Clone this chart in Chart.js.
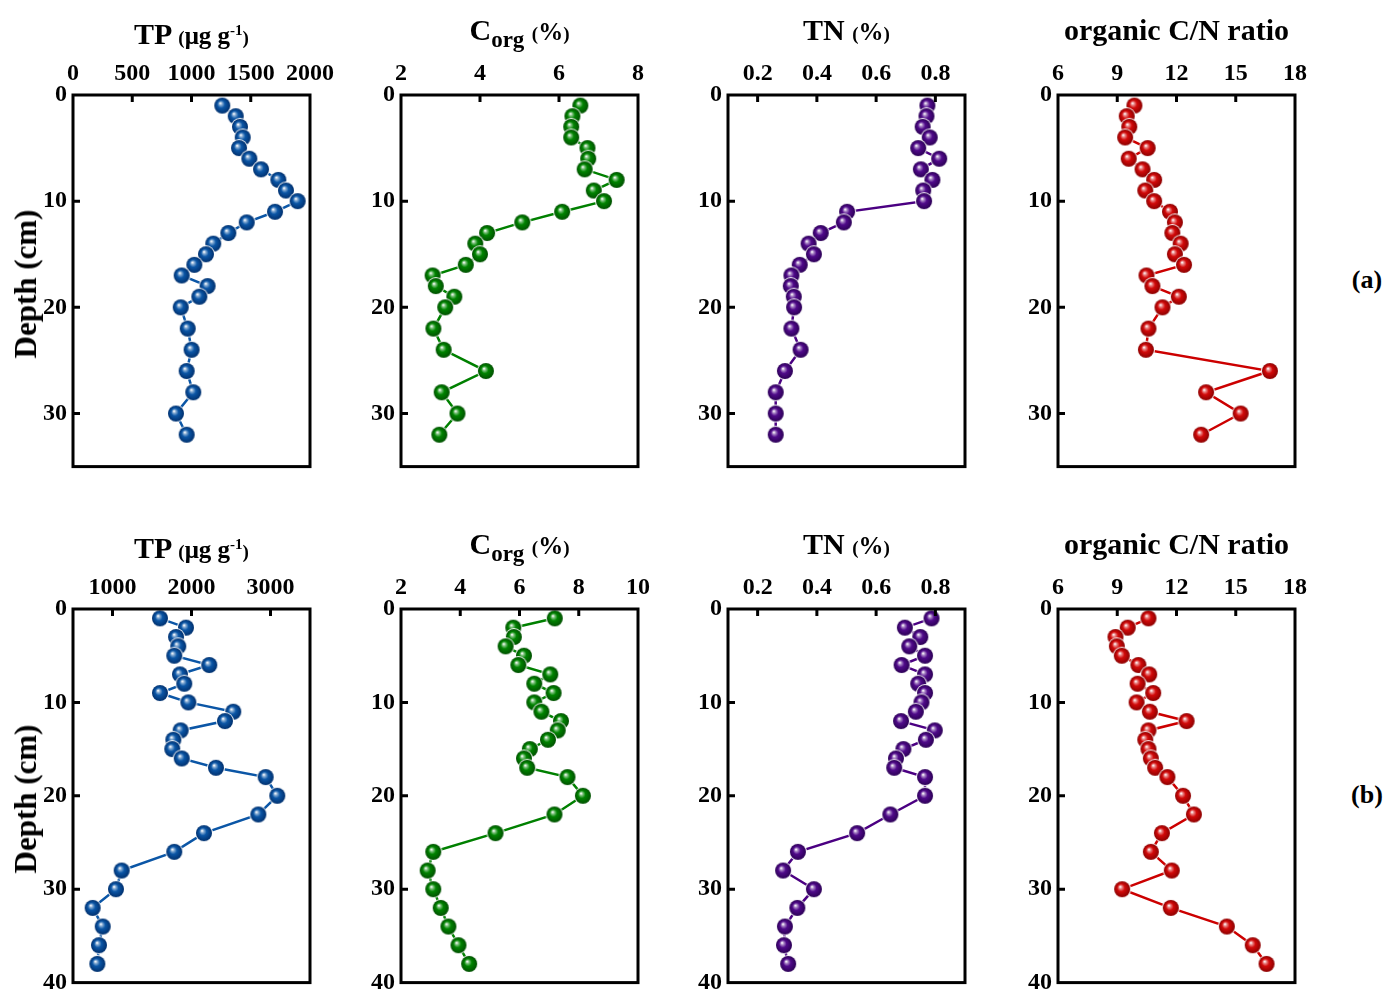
<!DOCTYPE html>
<html>
<head>
<meta charset="utf-8">
<script src="https://cdn.jsdelivr.net/npm/chart.js@4"></script>
<style>
  body { margin: 0; background: #fff; width: 1389px; height: 996px; position: relative; overflow: hidden; }
  canvas { position: absolute; }
  .lbl { position: absolute; font-family: "Liberation Serif", serif; font-weight: bold; color: #000; white-space: nowrap; }
  .title { width: 320px; text-align: center; line-height: 36px; font-size: 30px; }
  .title .sm { font-size: 25px; }
  .title .p { font-size: 19px; }
  .title sup { font-size: 15px; }
  .title sub { font-size: 23px; vertical-align: -7px; }
  .depth { font-size: 31px; transform: translate(-50%, -50%) rotate(-90deg); }
  .tag { font-size: 26px; transform: translate(-50%, -50%); }
</style>
</head>
<body>
<script>
// depths (cm)
const depthA = [1,2,3,4,5,6,7,8,9,10,11,12,13,14,15,16,17,18,19,20,22,24,26,28,30,32];
const depthB = [1,2,3,4,5,6,7,8,9,10,11,12,13,14,15,16,17,18,20,22,24,26,28,30,32,34,36,38];

// core (a)
const tpA = [1260,1373,1409,1432,1401,1488,1587,1733,1797,1896,1705,1466,1311,1184,1122,1024,917,1136,1066,909,968,1001,959,1015,869,959];
const corgA = [6.54,6.34,6.31,6.31,6.72,6.74,6.65,7.46,6.88,7.14,6.08,5.07,4.18,3.88,4.0,3.64,2.80,2.88,3.35,3.12,2.82,3.08,4.15,3.03,3.43,2.97];
const tnA = [0.773,0.770,0.757,0.781,0.742,0.813,0.751,0.790,0.759,0.762,0.502,0.491,0.413,0.372,0.390,0.342,0.314,0.312,0.322,0.323,0.314,0.345,0.292,0.261,0.261,0.261];
const cnA = [9.87,9.48,9.61,9.40,10.54,9.58,10.28,10.87,10.42,10.87,11.67,11.92,11.79,12.21,11.92,12.38,10.48,10.78,12.12,11.29,10.58,10.45,16.73,13.50,15.25,13.25];

// core (b)
const tpB = [1601,1930,1804,1833,1782,2225,1854,1909,1601,1960,2529,2424,1863,1770,1757,1876,2310,2939,3086,2846,2158,1782,1116,1044,749,876,829,808];
const corgB = [7.19,5.79,5.81,5.53,6.15,5.96,7.04,6.50,7.15,6.50,6.74,7.40,7.29,6.96,6.35,6.15,6.26,7.62,8.14,7.18,5.19,3.09,2.90,3.09,3.34,3.60,3.94,4.30];
const tnB = [0.787,0.697,0.749,0.712,0.765,0.686,0.765,0.742,0.765,0.753,0.734,0.684,0.798,0.768,0.692,0.667,0.661,0.765,0.765,0.648,0.536,0.336,0.286,0.390,0.334,0.292,0.289,0.303];
const cnB = [10.58,9.53,8.91,8.98,9.23,10.07,10.62,10.03,10.82,9.98,10.65,12.51,10.58,10.42,10.58,10.70,10.92,11.54,12.33,12.88,11.26,10.70,11.76,9.25,11.71,14.55,15.86,16.56];

// tick labels
const tpTicksA = [0,500,1000,1500,2000];
const tpTicksB = [1000,2000,3000];
const corgTicksA = [2,4,6,8];
const corgTicksB = [2,4,6,8,10];
const tnTicks = [0.2,0.4,0.6,0.8];
const cnTicks = [6,9,12,15,18];
const depthTicksA = [0,10,20,30];
const depthTicksB = [0,10,20,30,40];

const colLeft = [73, 401, 728, 1058];
const boxW = 237;
const rows = [
    { top: 95, h: 377, depth: depthA, yMax: 35, yTicks: depthTicksA, tag: "(a)" },
    { top: 609, h: 379, depth: depthB, yMax: 40, yTicks: depthTicksB, tag: "(b)" }
];

const colors = {
    blue:   { line: "#0b56a6", base: [11, 86, 166], dark: [0, 48, 110] },
    green:  { line: "#008000", base: [0, 132, 0], dark: [0, 80, 0] },
    purple: { line: "#4b0082", base: [80, 10, 138], dark: [44, 0, 86] },
    red:    { line: "#cc0000", base: [210, 10, 10], dark: [140, 0, 0] }
};

// shaded ball used as point style
function makeBall(c) {
    const size = 20, r = 8, cx = size / 2, cy = size / 2;
    const cv = document.createElement("canvas");
    cv.width = size; cv.height = size;
    const g = cv.getContext("2d");
    g.beginPath();
    g.arc(cx, cy, r + 1, 0, Math.PI * 2);
    g.fillStyle = "#ffffff";
    g.fill();
    const grad = g.createRadialGradient(cx - 2, cy - 2.5, 0.3, cx, cy, r);
    const b = c.base, d = c.dark;
    grad.addColorStop(0, "#ffffff");
    grad.addColorStop(0.18, `rgb(${Math.round((b[0] + 255) / 2)},${Math.round((b[1] + 255) / 2)},${Math.round((b[2] + 255) / 2)})`);
    grad.addColorStop(0.45, `rgb(${b[0]},${b[1]},${b[2]})`);
    grad.addColorStop(1, `rgb(${d[0]},${d[1]},${d[2]})`);
    g.beginPath();
    g.arc(cx, cy, r, 0, Math.PI * 2);
    g.fillStyle = grad;
    g.fill();
    return cv;
}

const framePlugin = {
    id: "frame",
    afterDraw(chart) {
        const { ctx, chartArea: a, scales } = chart;
        ctx.save();
        ctx.strokeStyle = "#000";
        ctx.lineWidth = 3;
        ctx.strokeRect(a.left, a.top, a.right - a.left, a.bottom - a.top);
        ctx.beginPath();
        scales.x.ticks.forEach(t => {
            const px = scales.x.getPixelForValue(t.value);
            if (px - a.left < 3 || a.right - px < 3) return;
            ctx.moveTo(px, a.top);
            ctx.lineTo(px, a.top + 7);
        });
        scales.y.ticks.forEach(t => {
            const py = scales.y.getPixelForValue(t.value);
            if (py - a.top < 3 || a.bottom - py < 3) return;
            ctx.moveTo(a.left, py);
            ctx.lineTo(a.left + 7, py);
        });
        ctx.stroke();
        ctx.restore();
    }
};

Chart.defaults.font.family = "'Liberation Serif', serif";
Chart.defaults.font.weight = "bold";
Chart.defaults.font.size = 24;
Chart.defaults.color = "#000";

function panel(row, col, values, xMin, xMax, xTicks, color, titleHtml) {
    const left = colLeft[col] - 70, top = row.top - 45;
    const cv = document.createElement("canvas");
    cv.width = boxW + 70 + 40;
    cv.height = row.h + 45 + 15;
    cv.style.left = left + "px";
    cv.style.top = top + "px";
    document.body.appendChild(cv);

    new Chart(cv, {
        type: "scatter",
        data: {
            datasets: [{
                data: values.map((v, i) => ({ x: v, y: row.depth[i] })),
                showLine: true,
                borderColor: colors[color].line,
                borderWidth: 2.5,
                pointStyle: makeBall(colors[color]),
                pointRadius: 8,
                pointHoverRadius: 8
            }]
        },
        options: {
            responsive: false,
            animation: false,
            devicePixelRatio: 1,
            layout: { padding: { left: 0, top: 0, right: 40, bottom: 15 } },
            plugins: { legend: { display: false }, tooltip: { enabled: false } },
            scales: {
                x: {
                    type: "linear",
                    position: "top",
                    min: xMin,
                    max: xMax,
                    grid: { display: false, drawTicks: false },
                    border: { display: false },
                    ticks: { padding: 7, maxRotation: 0, autoSkip: false, callback: v => String(v) },
                    afterBuildTicks: s => { s.ticks = xTicks.map(v => ({ value: v })); },
                    afterFit: s => { s.height = 45; }
                },
                y: {
                    type: "linear",
                    reverse: true,
                    min: 0,
                    max: row.yMax,
                    grid: { display: false, drawTicks: false },
                    border: { display: false },
                    ticks: { padding: 6, autoSkip: false, callback: v => String(v) },
                    afterBuildTicks: s => { s.ticks = row.yTicks.map(v => ({ value: v })); },
                    afterFit: s => { s.width = 70; }
                }
            }
        },
        plugins: [framePlugin]
    });

    const t = document.createElement("div");
    t.className = "lbl title";
    t.style.left = (colLeft[col] + boxW / 2 - 160) + "px";
    t.style.top = (row.top - 83) + "px";
    t.innerHTML = titleHtml;
    document.body.appendChild(t);
}

const tpTitle = 'TP <span class="sm"><span class="p">(</span>μg g<sup>-1</sup><span class="p">)</span></span>';
const corgTitle = 'C<sub>org</sub> <span class="sm"><span class="p">(</span>%<span class="p">)</span></span>';
const tnTitle = 'TN <span class="sm"><span class="p">(</span>%<span class="p">)</span></span>';
const cnTitle = 'organic C/N ratio';

panel(rows[0], 0, tpA, 0, 2000, tpTicksA, "blue", tpTitle);
panel(rows[0], 1, corgA, 2, 8, corgTicksA, "green", corgTitle);
panel(rows[0], 2, tnA, 0.1, 0.9, tnTicks, "purple", tnTitle);
panel(rows[0], 3, cnA, 6, 18, cnTicks, "red", cnTitle);

panel(rows[1], 0, tpB, 500, 3500, tpTicksB, "blue", tpTitle);
panel(rows[1], 1, corgB, 2, 10, corgTicksB, "green", corgTitle);
panel(rows[1], 2, tnB, 0.1, 0.9, tnTicks, "purple", tnTitle);
panel(rows[1], 3, cnB, 6, 18, cnTicks, "red", cnTitle);

rows.forEach(row => {
    const d = document.createElement("div");
    d.className = "lbl depth";
    d.style.left = "26px";
    d.style.top = (row.top + row.h / 2) + "px";
    d.textContent = "Depth (cm)";
    document.body.appendChild(d);

    const g = document.createElement("div");
    g.className = "lbl tag";
    g.style.left = "1367px";
    g.style.top = (row.top + row.h / 2 - 4) + "px";
    g.textContent = row.tag;
    document.body.appendChild(g);
});
</script>
</body>
</html>
